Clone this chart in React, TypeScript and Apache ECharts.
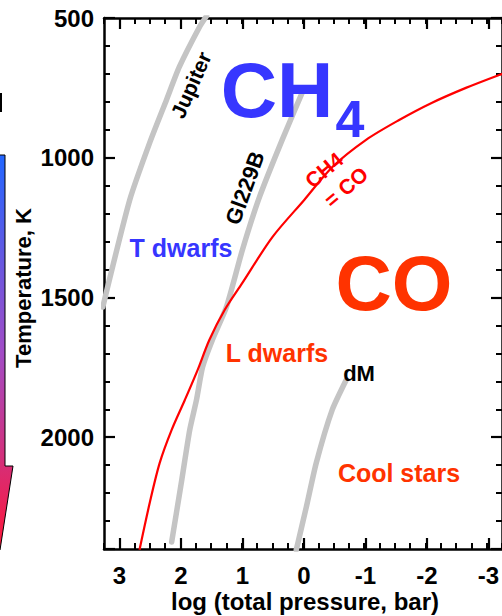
import React, { useEffect, useRef } from "react";
import * as echarts from "echarts";

// Pressure-temperature profiles (log P in bar, T in K)
const jupiterP = [3.27, 2.83, 2.5, 2.23, 2.02, 1.69, 1.575];
const jupiterT = [1534, 1151, 944, 793, 675, 532, 493];
const gl229bP = [-0.02, 0.34, 0.71, 0.99, 1.25, 1.48, 1.64, 1.74, 1.85, 1.98, 2.145];
const gl229bT = [750, 936, 1140, 1330, 1534, 1652, 1749, 1867, 1974, 2153, 2375];
const dmP = [0.11, -0.054, -0.216, -0.477, -0.705];
const dmT = [2403, 2250, 2092, 1902, 1795];
// CH4 = CO equilibrium boundary
const eqP = [2.67, 2.5, 2.34, 2.145, 1.93, 1.72, 1.53, 1.28, 0.99, 0.5, -0.02, -0.48, -1.03, -1.57, -2.1, -2.66, -3.2, -3.3];
const eqT = [2403, 2232, 2092, 1974, 1867, 1759, 1652, 1545, 1448, 1284, 1151, 1033, 936, 865, 804, 750, 704, 697];

const xTickLabels = [3, 2, 1, 0, -1, -2, -3];
const yTickLabels = [500, 1000, 1500, 2000];

const FONT = '"Liberation Sans", Arial, Helvetica, sans-serif';
const zip = (a: number[], b: number[]) => a.map((v, i) => [v, b[i]]);

export default function App() {
  const ref = useRef<HTMLDivElement>(null);
  useEffect(() => {
    document.body.style.margin = "0";
    if (!ref.current) return;
    const chart = echarts.init(ref.current, null, { renderer: "svg" });

    const G0 = { left: 104, top: 18, width: 400, height: 531 };
    const unit = 400 / 6.5;
    const G1 = { left: 104 + 0.25 * unit, top: 18, width: 6 * unit, height: 531 };

    const lineBlack = { show: true, onZero: false, lineStyle: { color: "#000", width: 2.5 } };
    const noLine = { show: false, onZero: false };
    const minorTick = { show: true, inside: true, length: 6, lineStyle: { color: "#000", width: 2 } };
    const majorTick = { show: true, inside: true, length: 11, lineStyle: { color: "#000", width: 2.2 } };
    const labelStyle = { fontFamily: FONT, fontWeight: "bold" as const, fontSize: 24, color: "#000" };

    const txt = (text: string, x: number, y: number, size: number, color: string, rot = 0) => ({
      type: "text",
      x,
      y,
      rotation: (rot * Math.PI) / 180,
      z: 10,
      style: {
        text,
        fill: color,
        fontFamily: FONT,
        fontWeight: "bold",
        fontSize: size,
        align: "center",
        verticalAlign: "middle",
      },
    });

    const gray = { color: "#c4c4c4", width: 5.5, cap: "round" as const, join: "round" as const };

    chart.setOption({
      animation: false,
      grid: [
        { ...G0, containLabel: false },
        { ...G1, containLabel: false },
      ],
      xAxis: [
        {
          type: "value", gridIndex: 0, position: "bottom", min: -3.25, max: 3.25, interval: 0.25, inverse: true,
          axisLine: lineBlack, axisTick: minorTick, axisLabel: { show: false }, splitLine: { show: false },
        },
        {
          type: "value", gridIndex: 0, position: "top", min: -3.25, max: 3.25, interval: 0.25, inverse: true,
          axisLine: lineBlack, axisTick: minorTick, axisLabel: { show: false }, splitLine: { show: false },
        },
        {
          type: "value", gridIndex: 1, position: "bottom", min: -3, max: 3, interval: 1, inverse: true,
          axisLine: noLine, axisTick: majorTick, splitLine: { show: false },
          axisLabel: {
            ...labelStyle, margin: 14,
            formatter: (v: number) => (xTickLabels.includes(v) ? String(v) : ""),
          },
        },
        {
          type: "value", gridIndex: 1, position: "top", min: -3, max: 3, interval: 1, inverse: true,
          axisLine: noLine, axisTick: majorTick, axisLabel: { show: false }, splitLine: { show: false },
        },
      ],
      yAxis: [
        {
          type: "value", gridIndex: 0, position: "left", min: 500, max: 2400, interval: 100, inverse: true,
          axisLine: lineBlack, axisTick: minorTick, axisLabel: { show: false }, splitLine: { show: false },
        },
        {
          type: "value", gridIndex: 0, position: "right", min: 500, max: 2400, interval: 100, inverse: true,
          axisLine: lineBlack, axisTick: minorTick, axisLabel: { show: false }, splitLine: { show: false },
        },
        {
          type: "value", gridIndex: 0, position: "left", min: 500, max: 2400, interval: 500, inverse: true,
          axisLine: noLine, axisTick: majorTick, splitLine: { show: false },
          axisLabel: {
            ...labelStyle, margin: 10,
            formatter: (v: number) => (yTickLabels.includes(v) ? String(v) : ""),
          },
        },
        {
          type: "value", gridIndex: 0, position: "right", min: 500, max: 2400, interval: 500, inverse: true,
          axisLine: noLine, axisTick: majorTick, axisLabel: { show: false }, splitLine: { show: false },
        },
        {
          type: "value", gridIndex: 1, min: 500, max: 2400, inverse: true, show: false,
        },
      ],
      series: [
        {
          type: "line", xAxisIndex: 0, yAxisIndex: 0, data: zip(jupiterP, jupiterT), symbol: "none",
          smooth: 0.2, lineStyle: gray, silent: true, clip: true, z: 2,
        },
        {
          type: "line", xAxisIndex: 0, yAxisIndex: 0, data: zip(gl229bP, gl229bT), symbol: "none",
          smooth: 0.2, lineStyle: gray, silent: true, clip: true, z: 2,
        },
        {
          type: "line", xAxisIndex: 0, yAxisIndex: 0, data: zip(dmP, dmT), symbol: "none",
          smooth: 0.2, lineStyle: gray, silent: true, clip: true, z: 2,
        },
        {
          type: "line", xAxisIndex: 0, yAxisIndex: 0, data: zip(eqP, eqT), symbol: "none",
          smooth: 0.3, lineStyle: { color: "#ff0000", width: 2.2 }, silent: true, clip: true, z: 3,
        },
      ],
      graphic: [
        {
          type: "polygon",
          z: 1,
          shape: { points: [[-12, 155], [5, 155], [5, 466], [13, 466], [0, 550], [-12, 550]] },
          style: {
            fill: new echarts.graphic.LinearGradient(0, 0, 0, 1, [
              { offset: 0, color: "#2266ff" },
              { offset: 0.5, color: "#a24cc6" },
              { offset: 1, color: "#ff1638" },
            ]),
            stroke: "#000",
            lineWidth: 1,
          },
        },
        { type: "rect", z: 1, shape: { x: 0, y: 93, width: 2, height: 19 }, style: { fill: "#000" } },
        txt("Temperature, K", 23, 288, 22, "#000", 90),
        txt("log (total pressure, bar)", 305, 601, 24, "#000"),
        txt("CH", 277, 90, 78, "#3636ff"),
        txt("4", 350, 119, 52, "#3636ff"),
        txt("CO", 394, 283, 78, "#ff3300"),
        txt("Jupiter", 191, 85, 21, "#000", 66),
        txt("Gl229B", 245, 188, 22, "#000", 70),
        txt("CH4", 324, 170, 21, "#ff0000", 40),
        txt("= CO", 346, 187, 21, "#ff0000", 40),
        txt("T dwarfs", 181, 248, 25, "#3636ff"),
        txt("L dwarfs", 277, 353, 25, "#ff3300"),
        txt("dM", 359, 373, 22, "#000"),
        txt("Cool stars", 399, 473, 25, "#ff3300"),
      ],
    });
    return () => chart.dispose();
  }, []);
  return <div ref={ref} style={{ width: 502, height: 616 }} />;
}
